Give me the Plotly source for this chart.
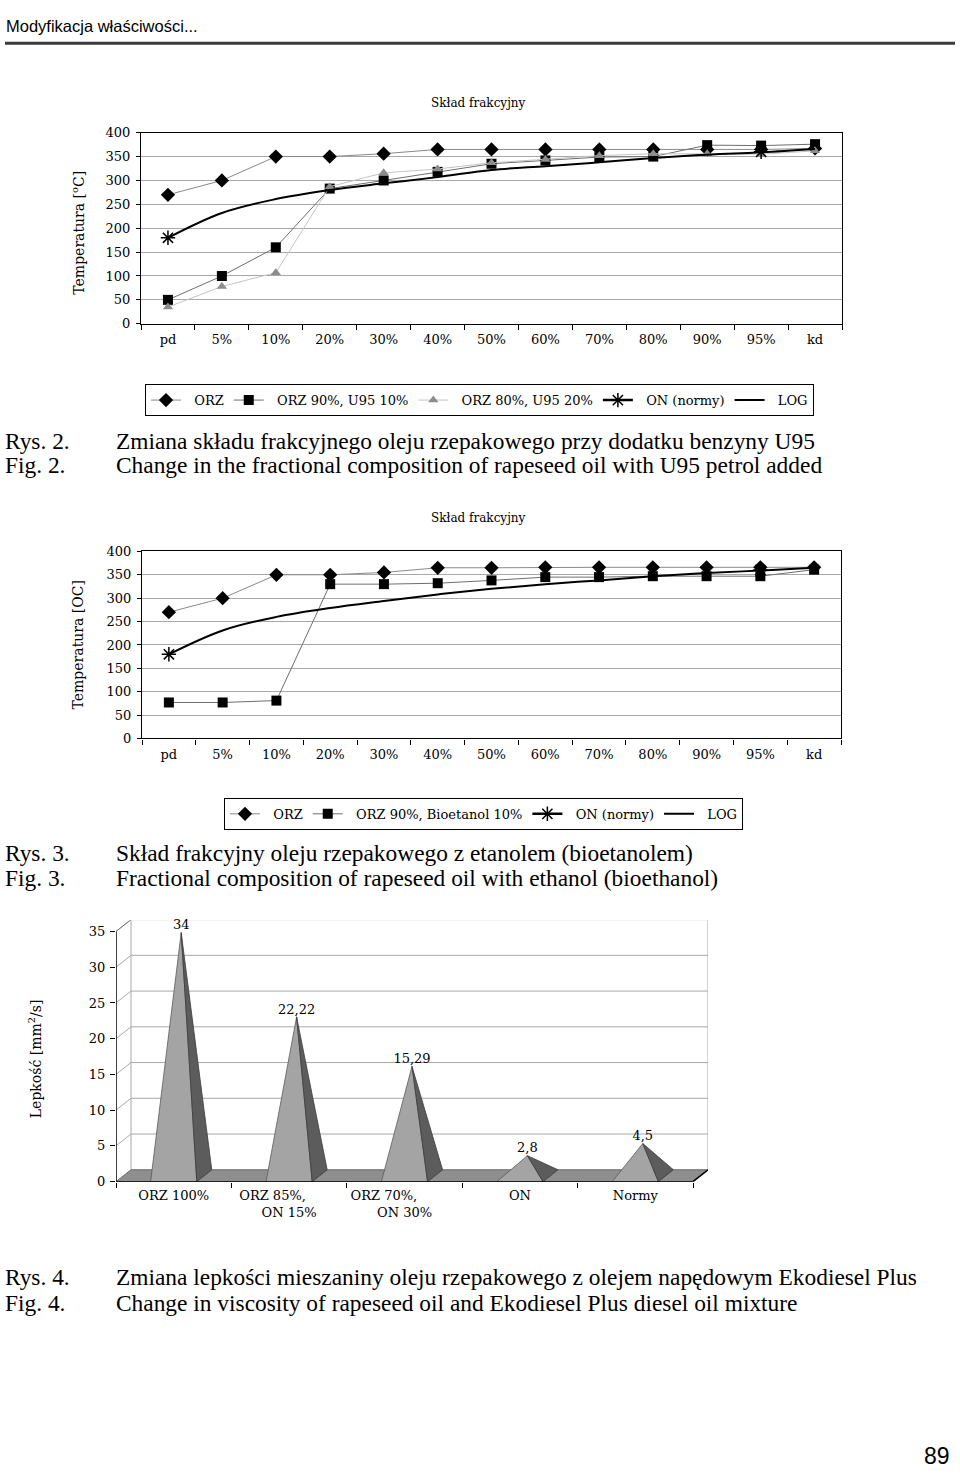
import plotly.graph_objects as go

# ---------------- data ----------------
categories = ["pd", "5%", "10%", "20%", "30%", "40%", "50%", "60%", "70%", "80%", "90%", "95%", "kd"]
temp_ticks = [0, 50, 100, 150, 200, 250, 300, 350, 400]

# Rys. 2
r2_orz = [270, 300, 350, 350, 356, 365, 365, 365, 365, 365, 365, 365, 367]
r2_orz90_u95 = [50, 100, 160, 283, 300, 318, 335, 342, 349, 350, 374, 373, 376]
r2_orz80_u95 = [35, 78, 107, 287, 316, 324, 337, 344, 352, 356, 356, 355, 362]
r2_on = [180, None, None, None, None, None, None, None, None, None, None, 360, None]
r2_log = [180, 232, 261, 280, 294, 307, 322, 330, 338, 347, 354, 359, 366]

# Rys. 3
r3_orz = [270, 300, 350, 350, 355, 365, 365, 366, 366, 366, 366, 366, 366]
r3_orz90_bio = [77, 77, 81, 330, 330, 332, 338, 345, 345, 347, 347, 347, 361]
r3_on = [180, None, None, None, None, None, None, None, None, None, None, 360, None]
r3_log = [180, 231, 260, 279, 294, 308, 320, 330, 338, 347, 354, 359, 365]

# Rys. 4
visc_labels = ["ORZ 100%",
               "ORZ 85%," + "\u00a0" * 8 + "<br>ON 15%",
               "ORZ 70%," + "\u00a0" * 10 + "<br>ON 30%",
               "ON", "Normy"]
visc_values = [34, 22.22, 15.29, 2.8, 4.5]
visc_text = ["34", "22,22", "15,29", "2,8", "4,5"]
visc_ticks = [0, 5, 10, 15, 20, 25, 30, 35]

# ---------------- styling ----------------
W, H = 960, 1475
SERIF = "DejaVu Serif"
CAP = "Liberation Serif"
PAD = "\u00a0\u00a0"  # legend spacing between symbol and text


def px_x(p):
    return p / W


def px_y(p):
    return 1 - p / H


fig = go.Figure()


def add_fraction_chart(xa, ya, legend, series):
    for s in series:
        fig.add_trace(go.Scatter(x=categories, y=s["y"], name=PAD + s["name"], mode=s["mode"],
                                 line=s["line"], marker=s["marker"], xaxis=xa, yaxis=ya,
                                 legend=legend, connectgaps=False, line_shape=s.get("shape", "linear"),
                                 cliponaxis=False))


def series_list(orz, mix, mix_name, on, log, mix2=None, mix2_name=None):
    out = [dict(y=orz, name="ORZ", mode="lines+markers",
                line=dict(color="#8a8a8a", width=1),
                marker=dict(symbol="diamond", size=11, color="black"))]
    out.append(dict(y=mix, name=mix_name, mode="lines+markers",
                    line=dict(color="#6e6e6e", width=1),
                    marker=dict(symbol="square", size=10, color="black")))
    if mix2 is not None:
        out.append(dict(y=mix2, name=mix2_name, mode="lines+markers",
                        line=dict(color="#c4c4c4", width=1),
                        marker=dict(symbol="triangle-up", size=9, color="#8c8c8c")))
    out.append(dict(y=on, name="ON (normy)", mode="lines+markers",
                    line=dict(color="black", width=2.5),
                    marker=dict(symbol="asterisk-open", size=12, color="black",
                                line=dict(color="black", width=1.5))))
    out.append(dict(y=log, name="LOG", mode="lines", shape="spline",
                    line=dict(color="black", width=2), marker=dict()))
    return out


add_fraction_chart("x", "y", "legend",
                   series_list(r2_orz, r2_orz90_u95, "ORZ 90%, U95 10%", r2_on, r2_log,
                               r2_orz80_u95, "ORZ 80%, U95 20%"))
add_fraction_chart("x2", "y2", "legend2",
                   series_list(r3_orz, r3_orz90_bio, "ORZ 90%, Bioetanol 10%", r3_on, r3_log))

# ---------------- 3D pyramid chart (Rys. 4) ----------------
DX = 0.13    # depth offset along x (category units)
DY = 1.66    # depth offset along y (value units)
HALF = 0.2   # half base width
X_MIN, X_MAX = -0.5, len(visc_values) - 0.5
Y_TOP = max(visc_ticks)


def deco(x, y, **kw):
    fig.add_trace(go.Scatter(x=x, y=y, xaxis="x3", yaxis="y3", showlegend=False,
                             hoverinfo="skip", cliponaxis=False, **kw))


# back wall + gridlines + side wall lines
for v in visc_ticks[1:]:
    deco([X_MIN, X_MIN + DX, X_MAX + DX], [v, v + DY, v + DY],
         mode="lines", line=dict(color="#a8a8a8", width=1))
deco([X_MIN + DX, X_MIN + DX, X_MAX + DX, X_MAX + DX], [DY, Y_TOP + DY, Y_TOP + DY, DY],
     mode="lines", line=dict(color="#a8a8a8", width=1))
# floor
deco([X_MIN, X_MAX, X_MAX + DX, X_MIN + DX, X_MIN], [0, 0, DY, DY, 0],
     mode="lines", fill="toself", fillcolor="#8e8e8e", line=dict(color="#6a6a6a", width=1))
# pyramids
for i, v in enumerate(visc_values):
    ax, ay = i + DX / 2, v + DY / 2
    deco([i - HALF, i + HALF, ax, i - HALF], [0, 0, ay, 0],
         mode="lines", fill="toself", fillcolor="#a4a4a4", line=dict(color="#5a5a5a", width=0.8))
    deco([i + HALF, i + HALF + DX, ax, i + HALF], [0, DY, ay, 0],
         mode="lines", fill="toself", fillcolor="#5c5c5c", line=dict(color="#3c3c3c", width=0.8))
# front axis lines
deco([X_MIN, X_MIN, X_MAX, X_MAX + DX], [Y_TOP, 0, 0, DY],
     mode="lines", line=dict(color="black", width=1.5))
deco([X_MIN, X_MIN + DX], [Y_TOP, Y_TOP + DY], mode="lines", line=dict(color="#777777", width=1))
# value labels
deco([i + DX / 2 for i in range(len(visc_values))], [v + DY / 2 for v in visc_values],
     mode="text", text=visc_text, textposition="top center",
     textfont=dict(family=SERIF, size=13, color="black"))

# ---------------- axes ----------------
tickfont = dict(family=SERIF, size=13, color="black")
cat_axis = dict(type="category", categoryorder="array", categoryarray=categories,
                range=[-0.5, len(categories) - 0.5], tickson="boundaries",
                ticks="outside", ticklen=5, tickcolor="black", showline=True,
                linecolor="black", linewidth=1.2, mirror=True, showgrid=False,
                tickfont=tickfont, ticklabelstandoff=4, zeroline=False)
temp_axis = dict(range=[0, 400], tickvals=temp_ticks, ticks="outside", ticklen=4,
                 tickcolor="black", showline=True, linecolor="black", linewidth=1.2,
                 mirror=True, showgrid=True, gridcolor="#a8a8a8", gridwidth=1,
                 tickfont=tickfont, zeroline=False, ticklabelstandoff=3)

fig.update_layout(
    xaxis=dict(cat_axis, domain=[px_x(141), px_x(842)], anchor="y"),
    yaxis=dict(temp_axis, domain=[px_y(320), px_y(127)], anchor="x"),
    xaxis2=dict(cat_axis, domain=[px_x(142), px_x(841)], anchor="y2"),
    yaxis2=dict(temp_axis, domain=[px_y(739), px_y(550)], anchor="x2"),
    xaxis3=dict(range=[X_MIN, X_MAX + DX], domain=[px_x(116), px_x(708)], anchor="y3",
                tickmode="array", tickvals=list(range(len(visc_values))), ticktext=visc_labels,
                ticks="", showline=False, showgrid=False, zeroline=False,
                tickfont=tickfont, ticklabelstandoff=4,
                minor=dict(tickmode="array",
                           tickvals=[i - 0.5 for i in range(len(visc_values) + 1)],
                           ticks="outside", ticklen=5, tickcolor="black", tickwidth=1.2,
                           showgrid=False)),
    yaxis3=dict(range=[0, 36.56], domain=[px_y(1186.7), px_y(922.7)], anchor="x3",
                tickvals=visc_ticks, ticks="outside", ticklen=5, tickcolor="black",
                tickwidth=1.2, showline=False, showgrid=False, zeroline=False,
                tickfont=tickfont, ticklabelstandoff=2),
)

legend_common = dict(orientation="h", xanchor="left", yanchor="top",
                     bordercolor="black", borderwidth=1, bgcolor="white",
                     font=dict(family=SERIF, size=13, color="black"),
                     traceorder="normal", itemclick=False)
fig.update_layout(
    legend=dict(legend_common, x=px_x(145), y=px_y(381)),
    legend2=dict(legend_common, x=px_x(224), y=px_y(799)),
)

# ---------------- page texts ----------------
ann = []


def text(x, y, t, size, family, xanchor="left", angle=0, color="black"):
    ann.append(dict(x=x, y=y, xref="paper", yref="paper", text=t, showarrow=False,
                    xanchor=xanchor, yanchor="middle", textangle=angle,
                    font=dict(family=family, size=size, color=color)))


text(px_x(4), px_y(19), "Modyfikacja właściwości...", 16.5, "Liberation Sans Narrow, Liberation Sans")
text(px_x(478), px_y(97), "Skład frakcyjny", 12, SERIF, "center")
text(px_x(478), px_y(516), "Skład frakcyjny", 12, SERIF, "center")
text(px_x(78), px_y(228), "Temperatura [<sup>o</sup>C]", 14, SERIF, "center", -90)
text(px_x(78), px_y(645), "Temperatura [OC]", 14, SERIF, "center", -90)
text(px_x(35), px_y(1063), "Lepkość [mm<sup>2</sup>/s]", 14, SERIF, "center", -90)

captions = [
    (438, "Rys. 2.", "Zmiana składu frakcyjnego oleju rzepakowego przy dodatku benzyny U95"),
    (463, "Fig. 2.", "Change in the fractional composition of rapeseed oil with U95 petrol added"),
    (855, "Rys. 3.", "Skład frakcyjny oleju rzepakowego z etanolem (bioetanolem)"),
    (880, "Fig. 3.", "Fractional composition of rapeseed oil with ethanol (bioethanol)"),
    (1283, "Rys. 4.", "Zmiana lepkości mieszaniny oleju rzepakowego z olejem napędowym Ekodiesel Plus"),
    (1309, "Fig. 4.", "Change in viscosity of rapeseed oil and Ekodiesel Plus diesel oil mixture"),
]
for yy, a, b in captions:
    text(px_x(3), px_y(yy), a, 23.4, CAP)
    text(px_x(114), px_y(yy), b, 23.4, CAP)

text(px_x(952), px_y(1464), "89", 23, "Liberation Sans", "right")

fig.update_layout(
    annotations=ann,
    shapes=[dict(type="line", xref="paper", yref="paper", x0=px_x(5), x1=px_x(955),
                 y0=px_y(36.5), y1=px_y(36.5), line=dict(color="#3a3a3a", width=3))],
    width=W, height=H, margin=dict(l=0, r=0, t=0, b=0),
    paper_bgcolor="white", plot_bgcolor="white",
    font=dict(family=SERIF, color="black"),
)

fig.write_html("out.html", config={"displayModeBar": False},
               post_script="document.body.style.margin='0';document.body.style.overflow='hidden';")
